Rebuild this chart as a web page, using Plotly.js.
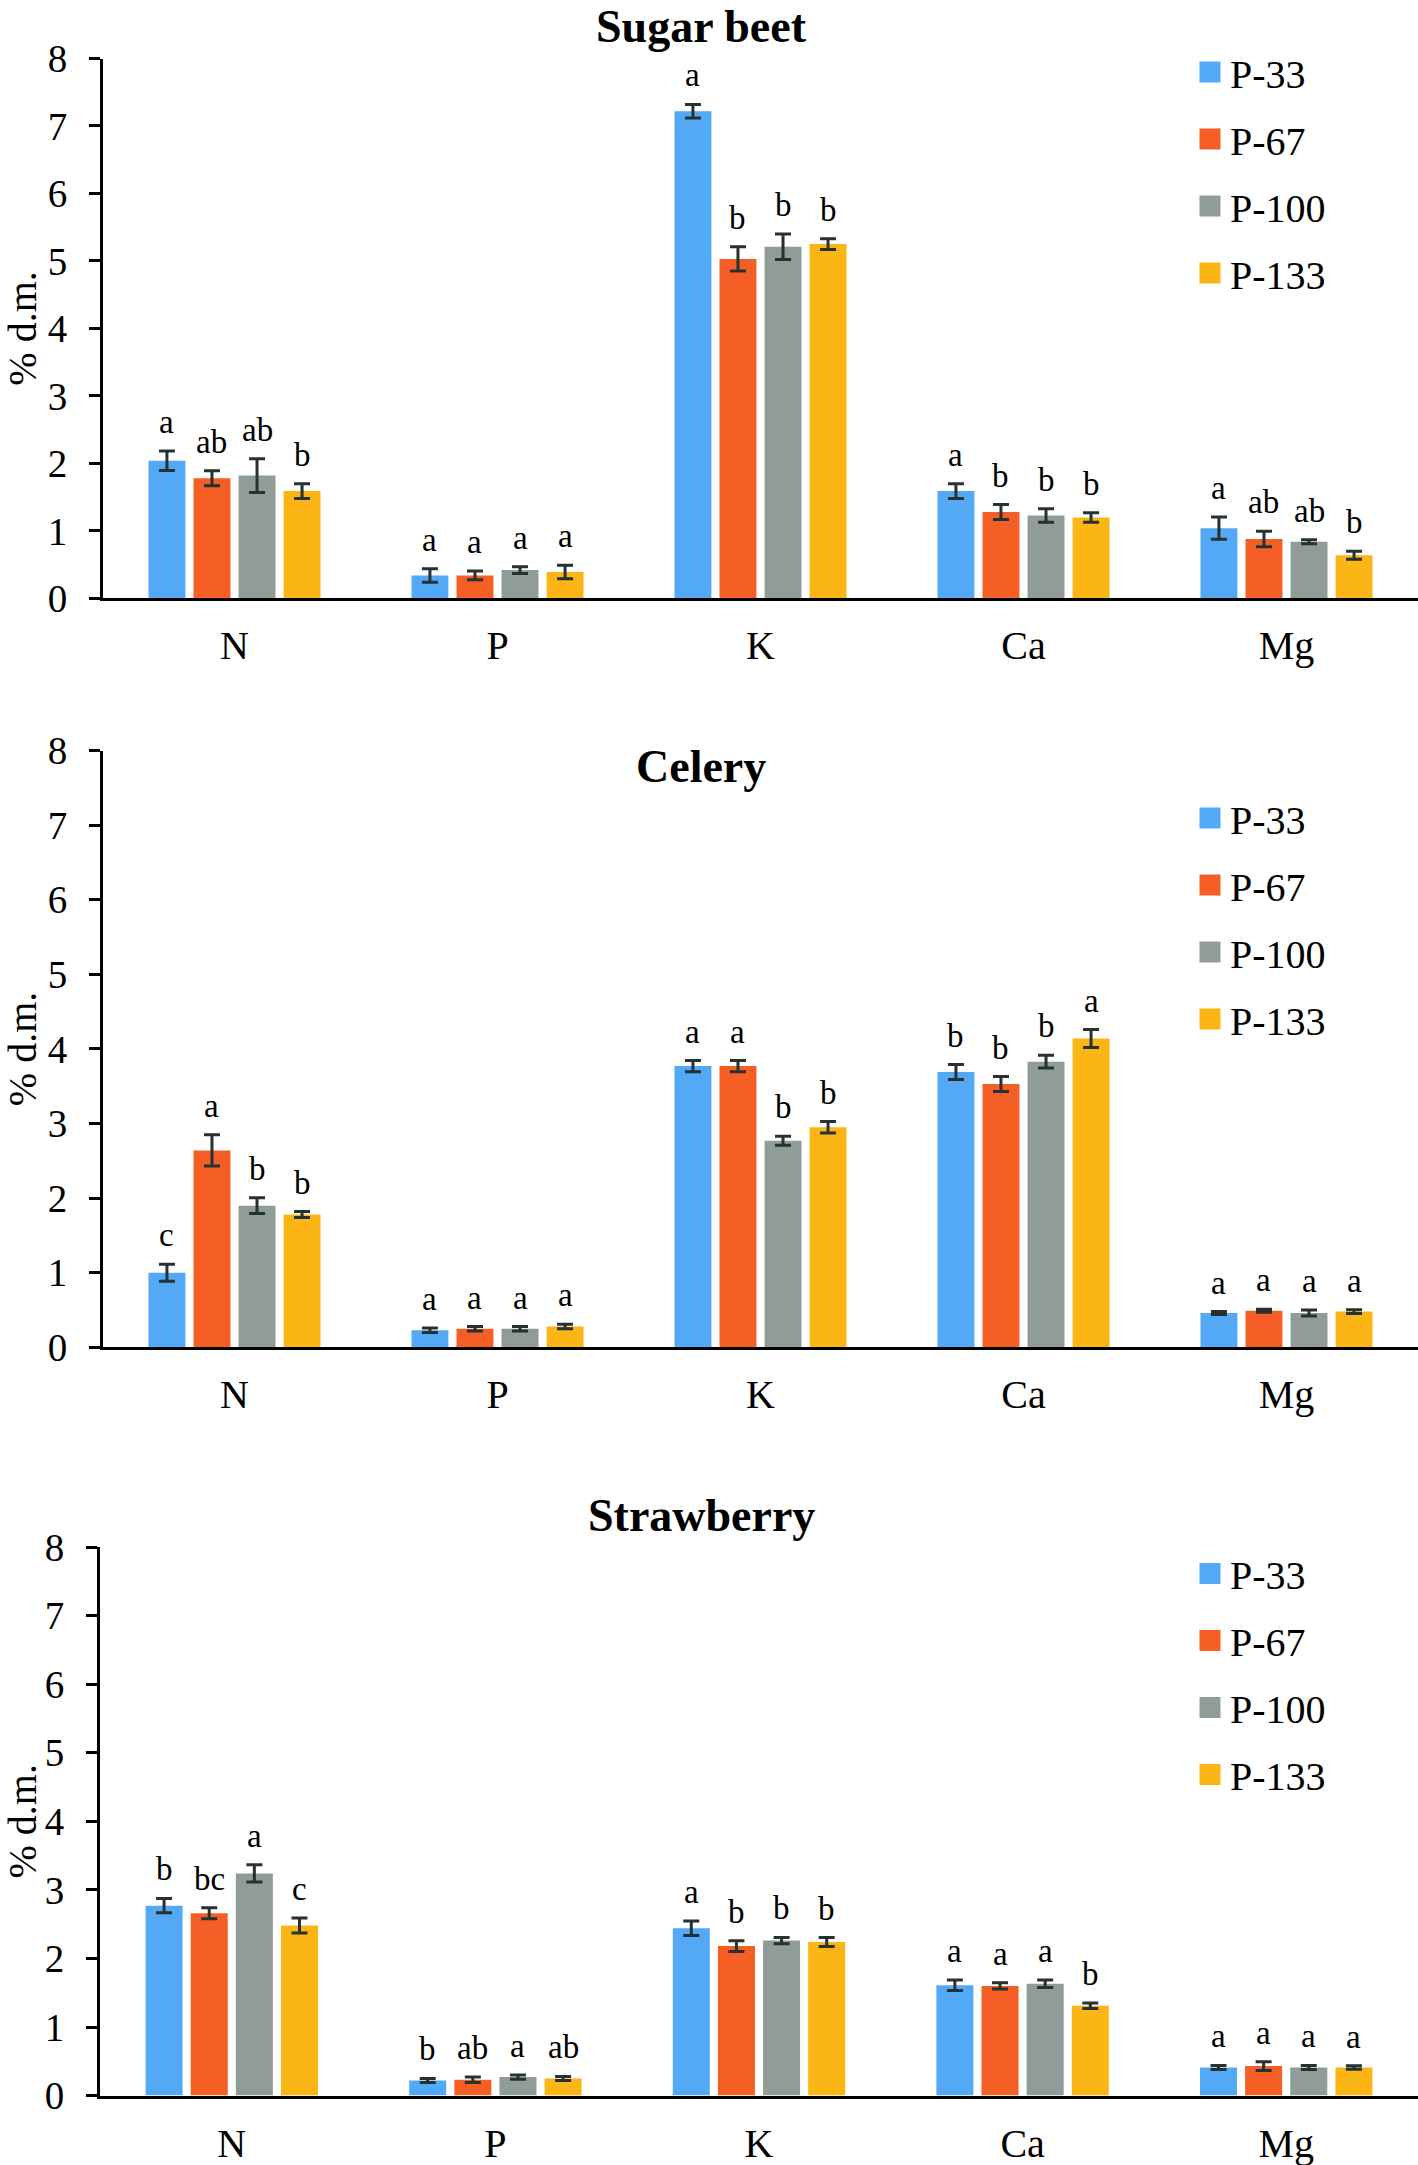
<!DOCTYPE html>
<html>
<head>
<meta charset="utf-8">
<script src="https://cdn.plot.ly/plotly-3.0.1.min.js"></script>
<style>html,body{margin:0;padding:0;background:#fff;}#chart{width:1418px;height:2165px;}</style>
</head>
<body>
<div id="chart"></div>
<script>
// ---------- data ----------
const categories = ['N', 'P', 'K', 'Ca', 'Mg'];
const seriesNames = ['P-33', 'P-67', 'P-100', 'P-133'];
const panelTitles = ['Sugar beet', 'Celery', 'Strawberry'];
const yTitle = '% d.m.';

// Sugar beet
const sugarBeet_P33  = [2.04, 0.34, 7.22, 1.59, 1.04];
const sugarBeet_P67  = [1.78, 0.34, 5.03, 1.28, 0.88];
const sugarBeet_P100 = [1.82, 0.42, 5.21, 1.23, 0.84];
const sugarBeet_P133 = [1.59, 0.39, 5.25, 1.20, 0.64];
const sugarBeetErr_P33  = [0.145, 0.10, 0.10, 0.11, 0.165];
const sugarBeetErr_P67  = [0.11, 0.065, 0.18, 0.11, 0.115];
const sugarBeetErr_P100 = [0.25, 0.05, 0.19, 0.10, 0.03];
const sugarBeetErr_P133 = [0.11, 0.10, 0.08, 0.07, 0.06];
const sugarBeetLet_P33  = ['a', 'a', 'a', 'a', 'a'];
const sugarBeetLet_P67  = ['ab', 'a', 'b', 'b', 'ab'];
const sugarBeetLet_P100 = ['ab', 'a', 'b', 'b', 'ab'];
const sugarBeetLet_P133 = ['b', 'a', 'b', 'b', 'b'];

// Celery
const celery_P33  = [1.00, 0.23, 3.77, 3.69, 0.46];
const celery_P67  = [2.64, 0.25, 3.77, 3.53, 0.49];
const celery_P100 = [1.90, 0.25, 2.77, 3.83, 0.46];
const celery_P133 = [1.78, 0.28, 2.95, 4.14, 0.48];
const celeryErr_P33  = [0.115, 0.03, 0.075, 0.10, 0.02];
const celeryErr_P67  = [0.21, 0.03, 0.075, 0.10, 0.02];
const celeryErr_P100 = [0.105, 0.03, 0.06, 0.085, 0.04];
const celeryErr_P133 = [0.04, 0.03, 0.077, 0.12, 0.025];
const celeryLet_P33  = ['c', 'a', 'a', 'b', 'a'];
const celeryLet_P67  = ['a', 'a', 'a', 'b', 'a'];
const celeryLet_P100 = ['b', 'a', 'b', 'b', 'a'];
const celeryLet_P133 = ['b', 'a', 'b', 'a', 'a'];

// Strawberry
const strawberry_P33  = [2.77, 0.22, 2.44, 1.61, 0.41];
const strawberry_P67  = [2.66, 0.23, 2.18, 1.60, 0.43];
const strawberry_P100 = [3.24, 0.27, 2.26, 1.63, 0.41];
const strawberry_P133 = [2.48, 0.25, 2.24, 1.31, 0.41];
const strawberryErr_P33  = [0.105, 0.03, 0.105, 0.077, 0.03];
const strawberryErr_P67  = [0.08, 0.04, 0.077, 0.045, 0.064];
const strawberryErr_P100 = [0.125, 0.03, 0.047, 0.054, 0.03];
const strawberryErr_P133 = [0.11, 0.03, 0.064, 0.04, 0.025];
const strawberryLet_P33  = ['b', 'b', 'a', 'a', 'a'];
const strawberryLet_P67  = ['bc', 'ab', 'b', 'a', 'a'];
const strawberryLet_P100 = ['a', 'a', 'b', 'a', 'a'];
const strawberryLet_P133 = ['c', 'ab', 'b', 'b', 'a'];

// ---------- styling ----------
const colors = ['#53A9F5', '#F55F26', '#8F9C98', '#FBB616'];
const FONT = '"Liberation Serif", "Times New Roman", Times, serif';
const BARGAP = 0.315, BARGROUPGAP = 0.18;

const panels = [
  { values: [sugarBeet_P33, sugarBeet_P67, sugarBeet_P100, sugarBeet_P133],
    errors: [sugarBeetErr_P33, sugarBeetErr_P67, sugarBeetErr_P100, sugarBeetErr_P133],
    letters: [sugarBeetLet_P33, sugarBeetLet_P67, sugarBeetLet_P100, sugarBeetLet_P133] },
  { values: [celery_P33, celery_P67, celery_P100, celery_P133],
    errors: [celeryErr_P33, celeryErr_P67, celeryErr_P100, celeryErr_P133],
    letters: [celeryLet_P33, celeryLet_P67, celeryLet_P100, celeryLet_P133] },
  { values: [strawberry_P33, strawberry_P67, strawberry_P100, strawberry_P133],
    errors: [strawberryErr_P33, strawberryErr_P67, strawberryErr_P100, strawberryErr_P133],
    letters: [strawberryLet_P33, strawberryLet_P67, strawberryLet_P100, strawberryLet_P133] }
];

// layout geometry (paper fractions)
const W = 1418, H = 2165;
const geo = [
  { x0: 103 / W, yb: 1 - 598.4 / H,  yt: 1 - 58.5 / H,  titleY: 1,              titleAnchor: 'top',    legY: 1 - 39.5 / H },
  { x0: 103 / W, yb: 1 - 1347.4 / H, yt: 1 - 750.5 / H, titleY: 1 - 766 / H,  titleAnchor: 'middle', legY: 1 - 785.5 / H },
  { x0: 100 / W, yb: 1 - 2095.6 / H, yt: 1 - 1547 / H,  titleY: 1 - 1515 / H, titleAnchor: 'middle', legY: 1 - 1541 / H }
];

const traces = [];
const annotations = [];
const layout = {
  width: W, height: H,
  margin: { l: 0, r: 0, t: 0, b: 0 },
  paper_bgcolor: '#ffffff', plot_bgcolor: 'rgba(0,0,0,0)',
  font: { family: FONT, color: '#000000', size: 39 },
  barmode: 'group', bargap: BARGAP, bargroupgap: BARGROUPGAP,
  showlegend: true
};

panels.forEach((p, pi) => {
  const sfx = pi === 0 ? '' : String(pi + 1);
  const legName = 'legend' + sfx;
  p.values.forEach((vals, k) => {
    traces.push({
      type: 'bar', x: categories, y: vals, name: seriesNames[k],
      xaxis: 'x' + sfx, yaxis: 'y' + sfx,
      legend: legName, legendgroup: 'p' + pi + '_' + k,
      marker: { color: colors[k], line: { width: 0 } },
      error_y: { type: 'data', array: p.errors[k], visible: true, color: '#263131', thickness: 3, width: 8 },
      hoverinfo: 'x+y+name'
    });
    vals.forEach((v, i) => {
      annotations.push({
        xref: 'x' + sfx, yref: 'y' + sfx,
        x: i + (k - 1.5) * (1 - BARGAP) / 4,
        y: v + p.errors[k][i],
        text: p.letters[k][i], showarrow: false,
        xanchor: 'center', yanchor: 'bottom', yshift: 9,
        font: { family: FONT, size: 33, color: '#000000' }
      });
    });
  });
  const g = geo[pi];
  layout['xaxis' + sfx] = {
    domain: [g.x0, 1], anchor: 'y' + sfx, type: 'category',
    showline: true, linecolor: '#000000', linewidth: 3,
    ticks: '', showgrid: false, zeroline: false,
    tickfont: { family: FONT, size: 40, color: '#000000' },
    ticklabelstandoff: 10, fixedrange: true
  };
  layout['yaxis' + sfx] = {
    domain: [g.yb, g.yt], anchor: 'x' + sfx,
    range: [0, 8], dtick: 1, tick0: 0,
    showline: true, linecolor: '#000000', linewidth: 3,
    ticks: 'outside', ticklen: 11, tickwidth: 3, tickcolor: '#000000',
    showgrid: false, zeroline: false,
    tickfont: { family: FONT, size: 39, color: '#000000' },
    ticklabelstandoff: 14,
    title: { text: yTitle, font: { family: FONT, size: 40, color: '#000000' }, standoff: 21 },
    fixedrange: true
  };
  layout[legName] = {
    x: 1190 / W, xanchor: 'left', y: g.legY, yanchor: 'top',
    bgcolor: 'rgba(0,0,0,0)', borderwidth: 0,
    font: { family: FONT, size: 40, color: '#000000' },
    traceorder: 'grouped', tracegroupgap: 12
  };
  annotations.push({
    xref: 'paper', yref: 'paper', x: 701 / W, y: g.titleY,
    xanchor: 'center', yanchor: g.titleAnchor, showarrow: false,
    borderpad: 0,
    text: '<b>' + panelTitles[pi] + '</b>',
    font: { family: FONT, size: 46, color: '#000000' }
  });
});
layout.annotations = annotations;

Plotly.newPlot('chart', traces, layout, { displayModeBar: false, staticPlot: true }).then(() => {
  // enlarge the legend colour squares (keep Plotly's own centring transform)
  document.querySelectorAll('.legendpoints path').forEach(el => {
    const t = el.getAttribute('transform') || '';
    el.setAttribute('transform', t + ' scale(1.75)');
  });
});
</script>
</body>
</html>
